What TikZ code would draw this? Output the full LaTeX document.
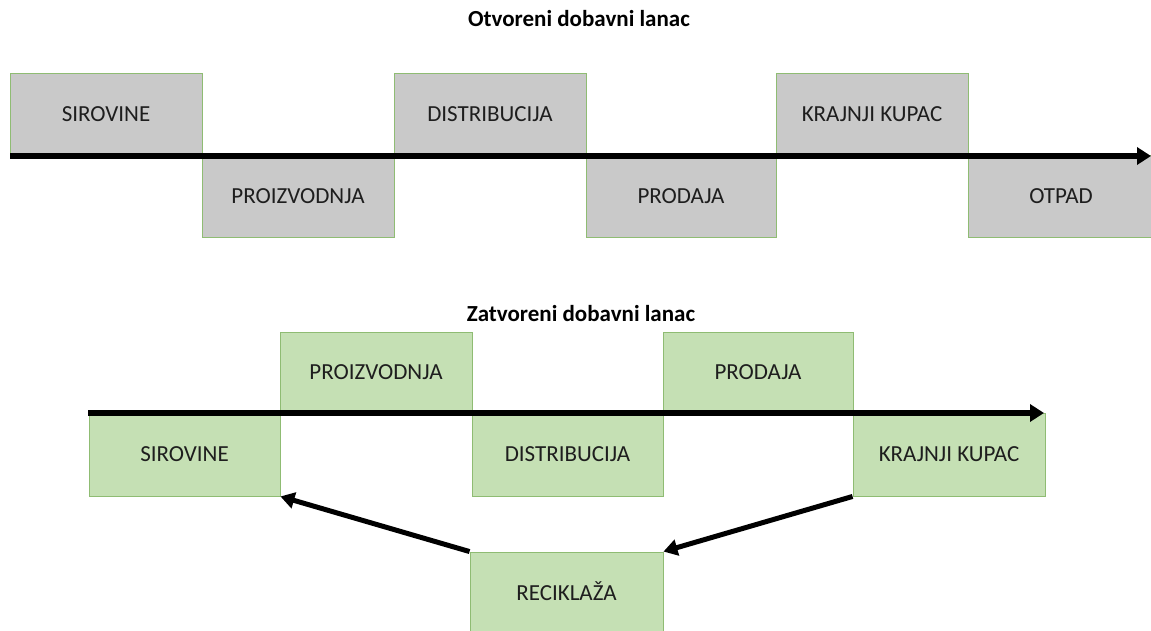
\documentclass[tikz,border=0pt]{standalone}
\usepackage{fontspec}
\setmainfont{Carlito}
\usetikzlibrary{arrows.meta}
\definecolor{boxgray}{HTML}{C9C9C9}
\definecolor{boxgreen}{HTML}{C5E0B4}
\definecolor{edgegreen}{HTML}{8FBC73}
\definecolor{txt}{HTML}{1E1E1E}
\tikzset{
  stage/.style={draw=edgegreen, line width=0.9pt, minimum width=192pt, minimum height=82pt,
    inner sep=0pt, text height=14.8pt, text depth=0pt, text=txt,
    font=\fontsize{23}{27}\selectfont},
  graybox/.style={stage, fill=boxgray},
  greenbox/.style={stage, fill=boxgreen},
  heading/.style={anchor=base, font=\fontsize{23}{27}\selectfont\bfseries, text=black, inner sep=0pt},
  flow/.style={line width=6pt, -{Triangle[length=14pt,width=17pt]}},
  back/.style={line width=5pt, -{Triangle[length=14pt,width=16pt]}}
}
\begin{document}
\begin{tikzpicture}[x=1pt,y=-1pt]
\useasboundingbox (0,0) rectangle (1151,631);
\clip (0,0) rectangle (1151,631);
% open chain
\node[heading] (t1) at (579,27) {Otvoreni dobavni lanac};
\node[graybox] (s1) at (106,114) {SIROVINE};
\node[graybox] (p1) at (298,196) {PROIZVODNJA};
\node[graybox] (d1) at (490,114) {DISTRIBUCIJA};
\node[graybox, minimum width=190pt] (pr1) at (681,196) {PRODAJA};
\node[graybox] (k1) at (872,114) {KRAJNJI KUPAC};
\node[graybox, minimum width=186pt] (o1) at (1061,196) {OTPAD};
\coordinate (a1s) at (10,156);
\coordinate (a1e) at (1151,156);
\draw[flow] (a1s) -- (a1e);
% closed chain
\node[heading] (t2) at (581,321) {Zatvoreni dobavni lanac};
\node[greenbox, minimum height=81pt] (p2) at (376,372.5) {PROIZVODNJA};
\node[greenbox, minimum height=81pt, minimum width=190pt] (pr2) at (758,372.5) {PRODAJA};
\node[greenbox, minimum width=191pt, minimum height=83pt] (s2) at (184.5,454.5) {SIROVINE};
\node[greenbox, minimum width=191pt, minimum height=83pt] (d2) at (567.5,454.5) {DISTRIBUCIJA};
\node[greenbox, minimum height=83pt] (k2) at (949,454.5) {KRAJNJI KUPAC};
\node[greenbox, minimum width=193pt] (r2) at (566.5,593) {RECIKLAŽA};
\coordinate (a2s) at (88,413);
\coordinate (a2e) at (1044,413);
\draw[flow] (a2s) -- (a2e);
\draw[back] (k2.south west) -- (r2.north east);
\draw[back] (r2.north west) -- (s2.south east);
\end{tikzpicture}
\end{document}
